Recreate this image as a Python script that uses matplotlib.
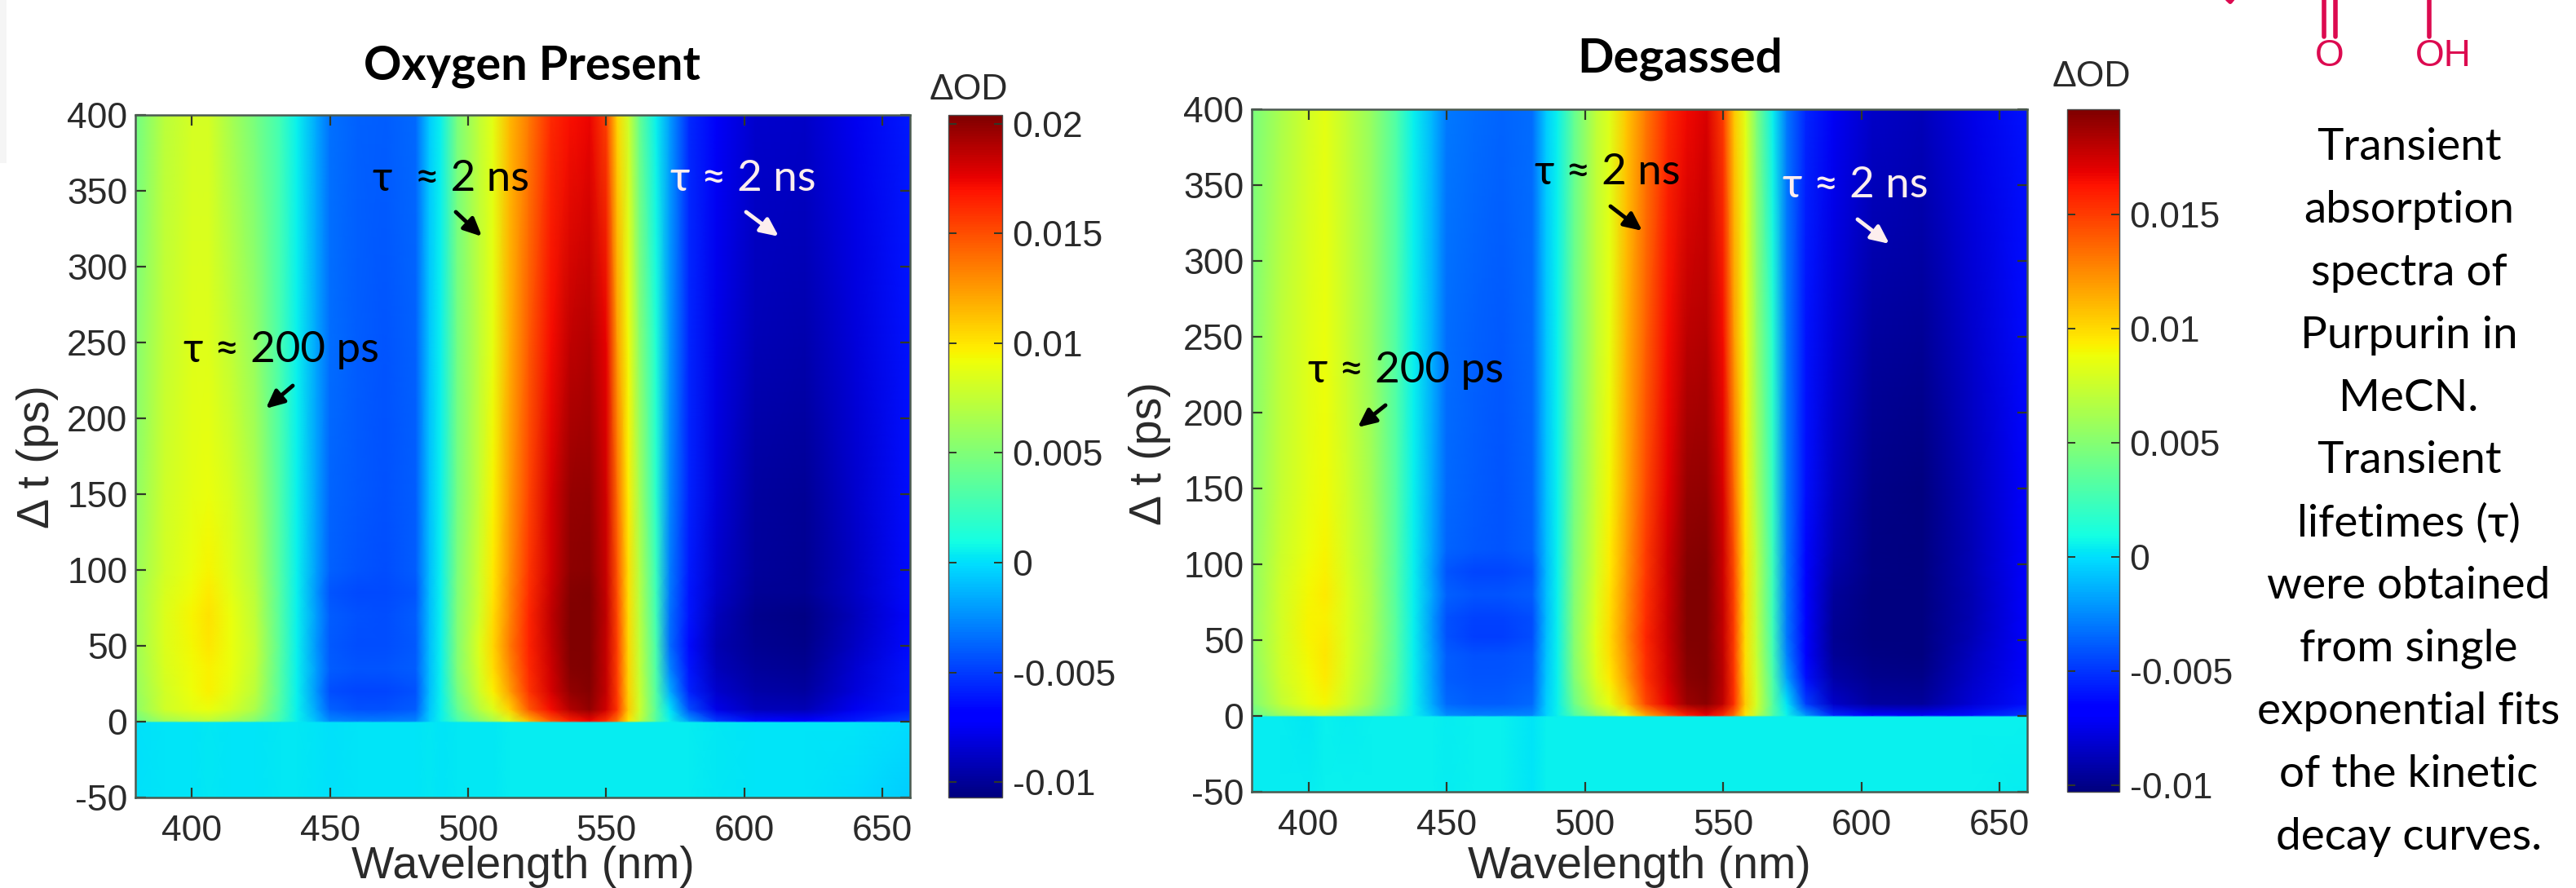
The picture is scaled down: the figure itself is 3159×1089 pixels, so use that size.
import matplotlib
matplotlib.use("Agg")
import numpy as np
import matplotlib.pyplot as plt
from matplotlib.lines import Line2D
from matplotlib.patches import Rectangle

W, H = 3159, 1089
SANS = ['Liberation Sans', 'DejaVu Sans']
CAL = ['Lato', 'Open Sans', 'DejaVu Sans']
TXT = '#2a2a2a'

wavelengths = [380, 390, 400, 406, 414, 423, 432, 438, 445, 450, 460, 470, 481, 486, 490, 496, 504, 509,
               515, 522, 530, 537, 544, 550, 554, 558, 562, 568, 573, 580, 590, 604, 622, 640, 660]

# dOD x 1000
o2_times = [-50, -0.5, 0.5, 8, 20, 35, 50, 70, 85, 100, 150, 250, 400]
o2_m50 = [0.1,0.2,0.2,0.3,0.2,0.2,0.3,0.3,0.2,0.1,0.2,0.2,0.2,0.3,0.2,0.3,0.3,0.3,0.4,0.4,0.4,0.4,0.4,0.4,0.4,0.4,0.4,0.4,0.4,0.4,0.3,0.2,0.2,-0.1,-0.6]
o2_m0 = [0.1,0.2,0.2,0.3,0.2,0.2,0.3,0.3,0.2,0.1,0.2,0.2,0.2,0.3,0.2,0.3,0.3,0.3,0.4,0.4,0.4,0.4,0.4,0.4,0.4,0.4,0.4,0.4,0.4,0.4,0.3,0.2,0.2,0.2,-0.1]
o2_p0 = [4.4,6.2,7.0,7.2,6.4,5.0,2.6,0.5,-1.0,-2.6,-3.0,-3.0,-2.8,-0.5,0.5,2.8,5.2,6.5,8.4,11.5,14.6,16.6,17.4,16.0,13.8,10.0,7.4,3.5,0.6,-2.0,-5.0,-6.5,-7.0,-6.0,-4.8]
o2_8 = [5.6,7.9,8.8,9.0,8.2,6.6,3.1,0.5,-1.8,-3.8,-4.3,-4.3,-3.9,-0.8,0.5,3.8,7.0,8.4,10.6,14.6,17.2,19.0,19.8,18.2,15.8,11.0,8.0,3.6,0.2,-4.5,-7.8,-9.0,-9.2,-7.6,-6.0]
o2_20 = [5.9,8.1,9.2,9.6,8.8,7.2,3.3,0.5,-2.2,-4.4,-4.7,-4.7,-4.3,-1.1,0.5,4.6,8.0,9.6,12.3,15.8,18.0,19.8,20.2,18.5,15.6,10.8,7.8,3.3,-1.5,-5.8,-8.6,-9.6,-9.8,-8.2,-6.2]
o2_35 = [6.1,8.3,9.3,9.7,9.0,7.5,3.3,0.5,-2.0,-3.9,-4.2,-4.2,-3.9,-1.0,0.5,5.0,8.3,10.2,13.0,16.2,18.3,20.2,20.4,18.5,15.5,10.6,7.6,3.1,-2.8,-6.2,-9.0,-9.9,-10.1,-8.5,-6.3]
o2_50 = [6.3,8.4,9.4,10.0,9.1,7.6,3.4,0.5,-2.2,-4.1,-4.5,-4.5,-4.1,-1.1,0.5,5.0,8.5,10.5,13.5,16.5,18.5,20.4,20.5,18.5,15.5,10.5,7.5,3.0,-3.5,-6.5,-9.3,-10.2,-10.4,-8.8,-6.5]
o2_70 = [6.3,8.4,9.5,10.1,9.0,7.4,3.3,0.5,-2.0,-3.9,-4.3,-4.4,-4.0,-1.0,0.5,5.0,8.1,10.2,13.2,16.3,18.6,20.4,20.4,18.6,15.2,10.4,7.2,2.6,-3.3,-6.2,-9.0,-10.3,-10.5,-9.0,-6.6]
o2_85 = [6.2,8.3,9.3,9.9,8.8,7.2,3.3,0.5,-2.2,-4.2,-4.6,-4.6,-4.2,-1.1,0.5,4.9,8.0,10.0,13.0,16.1,18.4,20.2,20.3,18.5,15.0,10.3,7.1,2.5,-3.1,-6.1,-8.7,-10.0,-10.2,-8.8,-6.5]
o2_100 = [6.0,8.1,9.1,9.5,8.6,7.0,3.2,0.5,-2.0,-3.8,-4.2,-4.4,-4.0,-1.0,0.5,4.8,7.9,9.9,12.8,15.9,18.2,20.0,20.1,18.4,14.8,10.2,7.0,2.4,-3.0,-6.0,-8.6,-9.9,-10.1,-8.8,-6.5]
o2_150 = [5.7,7.9,8.8,9.1,8.3,6.6,3.1,0.5,-1.9,-3.7,-4.1,-4.3,-3.9,-0.9,0.5,4.6,7.6,9.5,12.4,15.4,18.0,19.7,19.9,18.2,14.0,9.8,6.4,1.8,-2.6,-5.8,-8.2,-9.8,-10.0,-8.6,-6.4]
o2_250 = [5.3,7.6,8.5,8.6,7.5,5.8,2.9,0.5,-1.8,-3.5,-4.0,-4.2,-3.8,-0.8,0.5,4.5,7.3,8.9,11.8,14.6,17.2,18.6,19.0,17.6,12.5,9.3,5.4,1.4,-2.3,-5.6,-7.8,-9.2,-9.4,-8.2,-6.3]
o2_400 = [4.6,7.2,8.2,8.2,6.5,4.7,2.6,0.5,-1.6,-3.3,-3.8,-4.0,-3.6,-0.5,0.5,4.8,7.5,8.8,11.5,13.5,16.2,17.0,17.4,15.5,10.5,8.0,4.0,0.5,-2.0,-5.5,-7.3,-8.6,-8.7,-7.6,-6.0]
o2_rows = [o2_m50, o2_m0, o2_p0, o2_8, o2_20, o2_35, o2_50, o2_70, o2_85, o2_100, o2_150, o2_250, o2_400]

# dOD x 1000
deg_times = [-50, -0.5, 0.5, 8, 25, 40, 52, 65, 80, 95, 110, 150, 250, 400]
deg_m50 = [0.4,0.4,0.4,0.5,0.5,0.5,0.5,0.5,0.5,0.4,0.5,0.5,0.2,0.5,0.5,0.5,0.5,0.5,0.5,0.5,0.5,0.5,0.5,0.5,0.5,0.5,0.5,0.5,0.5,0.5,0.5,0.5,0.5,0.5,0.4]
deg_m0 = [0.4,0.4,0.3,0.5,0.4,0.5,0.5,0.5,0.5,0.4,0.5,0.5,0.1,0.5,0.5,0.5,0.5,0.5,0.5,0.5,0.5,0.5,0.5,0.5,0.5,0.5,0.5,0.5,0.5,0.5,0.5,0.5,0.5,0.5,0.5]
deg_p0 = [3.8,5.6,6.8,7.2,6.0,4.4,2.3,0.5,-1.0,-2.4,-2.8,-2.8,-2.6,-0.4,0.5,3.0,5.4,6.6,8.4,11.6,14.0,16.0,16.8,15.6,13.4,9.6,7.2,3.2,0.6,-2.2,-5.4,-6.8,-7.2,-6.2,-4.9]
deg_8 = [4.8,7.2,8.6,9.0,7.6,5.6,2.8,0.5,-1.7,-3.5,-3.8,-3.8,-3.5,-0.6,0.5,4.0,7.2,8.6,10.8,14.6,16.8,18.8,19.3,17.9,15.3,10.4,7.9,3.3,0.2,-4.8,-8.4,-9.4,-9.5,-8.0,-6.1]
deg_25 = [5.2,7.6,8.9,9.5,8.0,6.1,3.1,0.5,-1.9,-3.8,-4.1,-4.1,-3.8,-0.8,0.5,4.7,8.1,9.5,12.0,15.3,17.4,19.3,19.6,18.0,15.2,10.1,7.6,2.9,-1.8,-6.2,-9.2,-9.9,-10.0,-8.4,-6.4]
deg_40 = [5.4,7.8,9.0,9.6,8.1,6.2,3.2,0.5,-1.9,-3.8,-4.2,-4.2,-3.9,-0.9,0.5,4.9,8.3,9.8,12.3,15.5,17.6,19.4,19.6,17.9,15.0,9.9,7.4,2.6,-2.6,-6.6,-9.6,-10.1,-10.2,-8.6,-6.6]
deg_52 = [5.5,7.8,9.1,9.5,8.1,6.3,3.2,0.5,-2.2,-4.2,-4.7,-4.7,-4.3,-1.0,0.5,5.0,8.4,10.0,12.5,15.7,17.7,19.5,19.6,17.8,15.0,9.8,7.3,2.5,-3.0,-6.8,-9.8,-10.2,-10.3,-8.8,-6.8]
deg_65 = [5.5,7.8,9.1,9.3,8.1,6.3,3.2,0.5,-2.2,-4.2,-4.6,-4.6,-4.3,-1.1,0.5,4.9,8.2,9.9,12.4,15.5,17.7,19.6,19.6,17.8,14.9,9.8,7.2,2.4,-3.0,-6.7,-9.7,-10.3,-10.3,-8.9,-6.8]
deg_80 = [5.4,7.7,9.0,9.5,8.1,6.3,3.1,0.5,-1.8,-3.7,-4.0,-4.1,-3.8,-1.0,0.5,4.8,8.1,9.7,12.3,15.3,17.6,19.5,19.6,17.7,14.7,9.8,7.1,2.4,-3.0,-6.6,-9.5,-10.2,-10.3,-8.9,-6.7]
deg_95 = [5.4,7.6,8.9,9.3,8.0,6.2,3.1,0.5,-2.1,-4.1,-4.5,-4.5,-4.2,-1.1,0.5,4.7,7.9,9.5,12.1,15.1,17.5,19.4,19.5,17.6,14.5,9.7,7.0,2.4,-3.0,-6.5,-9.2,-10.1,-10.3,-8.8,-6.6]
deg_110 = [5.3,7.5,8.7,9.1,7.9,6.2,3.1,0.5,-1.8,-3.6,-3.9,-4.0,-3.7,-1.0,0.5,4.6,7.8,9.4,12.0,15.0,17.4,19.3,19.4,17.5,14.3,9.6,6.9,2.3,-3.0,-6.4,-8.9,-10.1,-10.3,-8.8,-6.6]
deg_150 = [5.2,7.3,8.5,8.9,7.7,6.0,3.1,0.5,-1.7,-3.5,-3.8,-4.0,-3.6,-0.9,0.5,4.3,7.5,9.0,11.6,14.5,17.0,18.9,19.1,17.2,13.5,9.3,6.4,2.0,-3.0,-6.2,-8.6,-10.0,-10.2,-8.7,-6.5]
deg_250 = [5.0,7.0,8.2,8.7,7.4,5.6,3.0,0.5,-1.5,-3.3,-3.7,-3.9,-3.5,-0.8,0.5,4.0,7.2,8.6,11.2,13.8,16.5,18.0,18.3,16.5,12.0,8.9,5.6,1.5,-3.0,-6.0,-8.0,-9.4,-9.7,-8.3,-6.3]
deg_400 = [4.6,6.4,7.8,8.4,7.2,5.5,3.0,0.5,-1.2,-3.0,-3.4,-3.6,-3.3,-0.6,0.5,3.8,7.0,8.2,10.6,13.0,15.6,16.6,17.2,15.0,10.5,8.3,4.8,0.5,-3.0,-5.5,-7.2,-8.4,-8.7,-7.6,-6.0]
deg_rows = [deg_m50, deg_m0, deg_p0, deg_8, deg_25, deg_40, deg_52, deg_65, deg_80, deg_95, deg_110, deg_150, deg_250, deg_400]

x_ticks = [400, 450, 500, 550, 600, 650]
y_ticks = [-50, 0, 50, 100, 150, 200, 250, 300, 350, 400]
y_tick_labels = ['-50', '0', '50', '100', '150', '200', '250', '300', '350', '400']
cb_ticks = [-0.01, -0.005, 0, 0.005, 0.01, 0.015, 0.02]
cb_labels = ['-0.01', '-0.005', '0', '0.005', '0.01', '0.015', '0.02']
cb_ticks_deg = cb_ticks[:-1]
cb_labels_deg = cb_labels[:-1]
note_lines = ['Transient', 'absorption', 'spectra of', 'Purpurin in', 'MeCN.', 'Transient', 'lifetimes (τ)',
              'were obtained', 'from single', 'exponential fits', 'of the kinetic', 'decay curves.']

fig = plt.figure(figsize=(W / 100, H / 100), dpi=100, facecolor='white')


def pos(x0, y0, x1, y1):
    return [x0 / W, 1 - y1 / H, (x1 - x0) / W, (y1 - y0) / H]


def P(x, y):
    return x / W, 1 - y / H


def ftext(x, y, s, **kw):
    fig.text(*P(x, y), s, **kw)


def panel(rect, cbrect, times, rows, vmin, vmax, cticks, clabels):
    ax = fig.add_axes(pos(*rect))
    Z = np.array(rows) / 1000.0
    m = ax.pcolormesh(wavelengths, times, Z, shading='gouraud', cmap='jet', vmin=vmin, vmax=vmax, rasterized=True)
    ax.set_xlim(379.5, 660)
    ax.set_ylim(-50, 400)
    ax.set_xticks(x_ticks)
    ax.set_yticks(y_ticks)
    ax.set_yticklabels(y_tick_labels)
    ax.tick_params(direction='in', top=True, right=True, length=9, width=1.6, color='#303828',
                   labelsize=32, labelcolor=TXT, pad=7)
    ax.tick_params(axis='x', pad=15)
    for lab in ax.get_xticklabels() + ax.get_yticklabels():
        lab.set_family(SANS)
    for s in ax.spines.values():
        s.set_color('#4a5a50')
        s.set_linewidth(1.8)
    cax = fig.add_axes(pos(*cbrect))
    cb = fig.colorbar(m, cax=cax)
    cb.set_ticks(cticks)
    cb.set_ticklabels(clabels)
    cb.outline.set_edgecolor('#4a4a4a')
    cb.outline.set_linewidth(1.0)
    cax.tick_params(direction='in', left=True, right=True, length=7, width=1.4, color='#303828',
                    labelsize=32, labelcolor=TXT, pad=9)
    for lab in cax.get_yticklabels():
        lab.set_family(SANS)
    return ax


panel((166, 141, 1116, 978), (1163, 141, 1229, 978), o2_times, o2_rows, -0.0107, 0.0204, cb_ticks, cb_labels)
panel((1535, 134, 2486, 971), (2535, 134, 2599, 971), deg_times, deg_rows, -0.0103, 0.0196, cb_ticks_deg, cb_labels_deg)

# axis labels and titles
lab = dict(family=SANS, fontsize=40, color=TXT, ha='center')
ftext(641, 1077, 'Wavelength (nm)', va='baseline', **lab)
ftext(2010, 1077, 'Wavelength (nm)', va='baseline', **lab)
ftext(46, 560, 'Δ t (ps)', va='center', rotation=90, **lab)
ftext(1410, 556, 'Δ t (ps)', va='center', rotation=90, **lab)
ftext(1188, 110, 'ΔOD', family=SANS, fontsize=32, color=TXT, ha='center', va='center')
ftext(2565, 94, 'ΔOD', family=SANS, fontsize=32, color=TXT, ha='center', va='center')
ftext(652, 82, 'Oxygen Present', family=CAL, fontsize=41.5, fontweight='bold', color='black', ha='center', va='center')
ftext(2060, 72, 'Degassed', family=CAL, fontsize=42, fontweight='bold', color='black', ha='center', va='center')

# lifetime notes and arrows
PINK = '#fdeeee'
notes = [
    (553, 219, 'τ  ≈ 2 ns', 'black', (559, 260), (591, 290)),
    (911, 219, 'τ ≈ 2 ns', PINK, (915, 260), (955, 290)),
    (345, 430, 'τ ≈ 200 ps', 'black', (359, 473), (326, 501)),
    (1971, 212, 'τ ≈ 2 ns', 'black', (1975, 253), (2014, 283)),
    (2275, 228, 'τ ≈ 2 ns', PINK, (2278, 269), (2317, 299)),
    (1724, 455, 'τ ≈ 200 ps', 'black', (1699, 497), (1665, 524)),
]
for x, y, s, c, a, b in notes:
    ftext(x, y, s, family=CAL, fontsize=38, color=c, ha='center', va='center')
    fig.add_artist(plt.Annotation('', xy=P(*b), xytext=P(*a), xycoords='figure fraction',
                                  textcoords='figure fraction',
                                  arrowprops=dict(arrowstyle='-|>,head_length=0.6,head_width=0.28', color=c, lw=3.5,
                                                  mutation_scale=22, shrinkA=0, shrinkB=0)))

# side note
for i, line in enumerate(note_lines):
    ftext(2954, 180.5 + i * 76.9, line, family=CAL, fontsize=39.5, color='black', ha='center', va='center')

# molecule fragment at the top edge
RED = '#dc0a50'
ftext(2857, 69, 'O', family=SANS, fontsize=33, color=RED, ha='center', va='center')
ftext(2996, 69, 'OH', family=SANS, fontsize=33, color=RED, ha='center', va='center')
for xa, xb, ya, yb in [(2850, 2850, 0, 45), (2864, 2864, 0, 45), (2979, 2979, 0, 45), (2726, 2735, -6, 2), (2735, 2742, 2, -6)]:
    fig.add_artist(Line2D([xa / W, xb / W], [1 - ya / H, 1 - yb / H], transform=fig.transFigure,
                          color=RED, lw=4, solid_capstyle='round'))

# faint slide shadow on the far left
fig.add_artist(Rectangle((0, 1 - 200 / H), 8 / W, 200 / H, transform=fig.transFigure, facecolor='#f5f5f5', edgecolor='none'))

fig.savefig('out.png', dpi=100)
